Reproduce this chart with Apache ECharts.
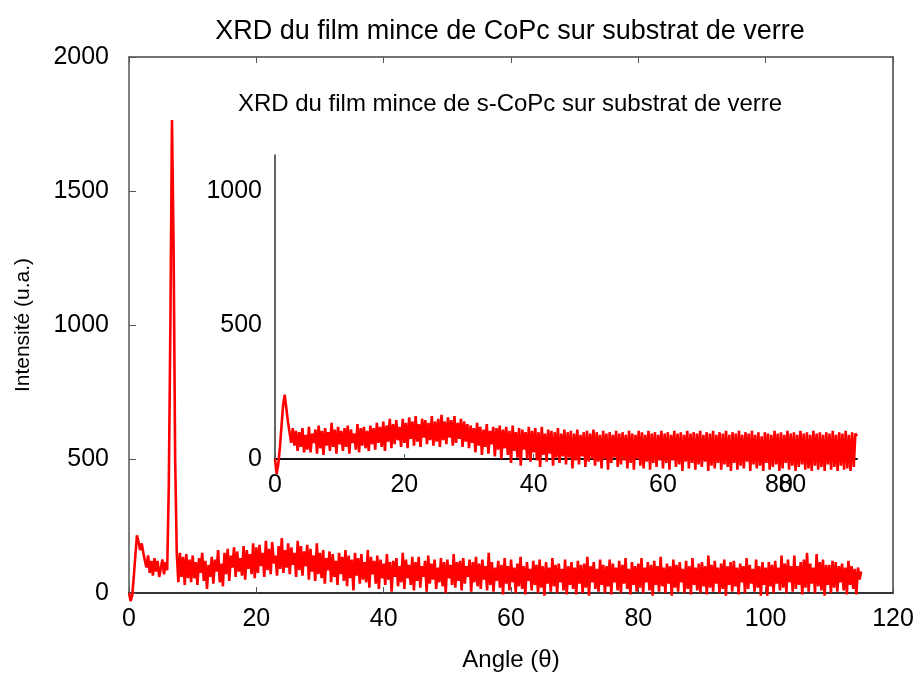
<!DOCTYPE html>
<html>
<head>
<meta charset="utf-8">
<script src="https://cdn.jsdelivr.net/npm/echarts@6/dist/echarts.min.js"></script>
<style>
  html, body { margin: 0; padding: 0; background: #fff; }
  #chart { width: 916px; height: 677px; }
</style>
</head>
<body>
<div id="chart"></div>
<script>
// 角度步长 (°)
const angleStep = 0.25;

// 主图: CoPc 薄膜, 0° ~ 115°, 每行 5°
const mainIntensity = [
  0, -30, -10, 60, 140, 215, 190, 160, 185, 150, 120, 95, 140, 75, 120, 65, 130, 80, 120, 60,
  55, 125, 70, 115, 85, 400, 1000, 1765, 1300, 500, 150, 40, 150, 60, 135, 30, 145, 55, 125, 40,
  140, 55, 115, 30, 130, 75, 150, 45, 120, 15, 105, 60, 135, 35, 125, 80, 160, 40, 110, 25,
  150, 70, 165, 45, 140, 95, 170, 60, 155, 80, 130, 65, 175, 50, 160, 90, 145, 70, 185, 55,
  170, 75, 180, 100, 150, 60, 195, 85, 165, 70, 190, 110, 140, 65, 175, 90, 205, 75, 160, 95,
  185, 70, 170, 105, 150, 60, 195, 85, 175, 65, 155, 100, 180, 50, 165, 80, 140, 45, 185, 70,
  150, 55, 160, 35, 130, 85, 155, 40, 145, 60, 120, 30, 150, 70, 135, 45, 160, 25, 140, 55,
  125, 10, 150, 65, 130, 35, 145, 50, 115, 40, 160, 20, 135, 70, 120, 35, 140, 15, 125, 55,
  110, 30, 145, 50, 115, 5, 120, 60, 130, 25, 100, 40, 150, 15, 125, 55, 105, 30, 135, 10,
  115, 45, 135, 20, 100, 60, 120, 5, 140, 35, 110, 50, 125, 15, 95, 40, 130, 25, 115, 0,
  125, 55, 105, 30, 145, 20, 115, 45, 120, 10, 130, 35, 100, 60, 125, 5, 115, 40, 135, 25,
  110, 15, 125, 50, 100, 10, 150, 30, 115, 5, 95, 45, 120, 20, 105, -5, 130, 35, 100, 10,
  125, 40, 95, 0, 110, 25, 135, 15, 100, -5, 115, 45, 90, 10, 120, 30, 105, 0, 125, 20,
  100, -10, 115, 35, 95, 5, 130, 25, 105, 0, 110, 40, 90, 10, 125, -5, 100, 30, 115, 15,
  95, -5, 120, 35, 105, 0, 110, 20, 135, -10, 100, 40, 115, 15, 90, 5, 125, 30, 105, 0,
  100, 25, 125, -5, 110, 40, 95, 10, 120, 0, 105, 35, 130, 15, 90, -5, 115, 30, 100, 5,
  110, 20, 130, 0, 95, 40, 115, 10, 105, -10, 120, 30, 100, 5, 135, 25, 95, 0, 110, 35,
  100, -10, 125, 20, 105, 5, 115, 40, 90, 0, 120, 15, 100, -5, 130, 30, 95, 10, 110, 0,
  115, 25, 100, -5, 140, 20, 105, 5, 120, 35, 95, 0, 110, 15, 125, -10, 100, 30, 115, 5,
  120, 25, 95, -5, 110, 40, 100, 0, 130, 15, 105, 35, 90, 5, 125, 20, 100, -10, 115, 30,
  95, -10, 115, 25, 105, 0, 120, 35, 95, 10, 140, 20, 110, 0, 125, 40, 100, 5, 140, 15,
  100, 30, 115, -5, 125, 20, 150, 5, 110, 35, 95, 0, 145, 25, 115, 10, 125, -10, 105, 30,
  105, 0, 120, 20, 115, 5, 100, 40, 110, 10, 95, -5, 120, 30, 100, 15, 90, -5, 95, 50,
  80
];

// 插图: s-CoPc 薄膜, 0° ~ 90°, 每行 5°
const insetIntensity = [
  0, -55, -20, 40, 120, 200, 240, 190, 140, 100, 60, 115, 50, 105, 30, 100, 45, 115, 25, 90,
  35, 120, 25, 95, 60, 110, 20, 125, 40, 105, 15, 115, 50, 100, 30, 135, 45, 110, 20, 120,
  55, 105, 30, 115, 45, 125, 20, 110, 60, 95, 35, 130, 25, 115, 50, 120, 40, 105, 30, 125,
  55, 115, 35, 135, 60, 120, 45, 140, 30, 125, 65, 150, 40, 130, 55, 145, 70, 120, 45, 150,
  60, 135, 40, 155, 75, 140, 50, 160, 65, 130, 45, 150, 80, 145, 55, 135, 70, 160, 50, 140,
  65, 150, 45, 165, 70, 140, 55, 155, 80, 145, 50, 160, 60, 135, 75, 150, 45, 140, 65, 130,
  40, 125, 60, 115, 25, 135, 50, 120, 15, 110, 45, 130, 20, 105, 55, 120, 10, 115, 35, 125,
  0, 110, 40, 120, 15, 105, -15, 125, 30, 100, 5, 115, -25, 110, 35, 100, 0, 120, -10, 105,
  25, 115, -5, 100, -30, 120, 15, 95, -10, 110, 20, 105, -25, 100, 5, 115, -15, 95, 10, 110,
  -20, 100, 5, 105, -35, 95, -5, 110, -20, 90, 10, 100, -30, 105, -10, 95, 0, 110, -25, 100,
  -10, 90, -35, 105, 0, 95, -40, 100, -15, 90, 5, 105, -30, 95, -20, 100, -5, 90, -35, 105,
  -15, 95, -40, 90, 0, 105, -25, 100, -35, 90, -10, 105, -40, 95, -15, 100, -30, 90, -5, 105,
  -35, 95, -15, 100, -40, 90, -5, 105, -30, 95, -20, 100, -45, 90, -10, 105, -35, 95, -15, 100,
  -40, 95, -20, 105, -30, 90, -10, 100, -45, 95, -25, 105, -35, 90, -15, 100, -40, 95, -20, 105,
  -30, 90, -45, 100, -15, 95, -40, 105, -25, 90, -35, 100, -10, 95, -45, 105, -20, 90, -35, 100,
  -25, 85, -45, 100, -15, 95, -40, 90, -30, 105, -20, 95, -45, 100, -35, 90, -15, 105, -40, 95,
  -25, 100, -45, 90, -30, 105, -20, 95, -40, 100, -35, 90, -45, 105, -25, 95, -40, 100, -30, 90,
  -45, 100, -20, 95, -40, 105, -30, 90, -45, 100, -25, 95, -40, 105, -35, 90, -45, 100, -30, 95,
  85
];

// 文本
const mainTitle = 'XRD du film mince de CoPc sur substrat de verre';
const insetTitle = 'XRD du film mince de s-CoPc sur substrat de verre';
const xName = 'Angle (θ)';
const yName = 'Intensité (u.a.)';

const FONT = 'Liberation Sans, Arial, sans-serif';
const RED = '#ff0000';

// 转为 [角度, 强度]
const toPairs = (arr) => arr.map((v, i) => [i * angleStep, v]);

const myChart = echarts.init(document.getElementById('chart'), null, { renderer: 'canvas' });

// 刻度标签样式 (不要千分位)
const labelStyle = {
  color: '#000', fontFamily: FONT, fontSize: 25,
  formatter: (v) => String(v)
};

const option = {
  animation: false,
  backgroundColor: '#fff',
  graphic: [
    {
      type: 'text', x: 510, y: 32,
      style: { text: mainTitle, font: '27px ' + FONT, fill: '#000', align: 'center', verticalAlign: 'middle' }
    },
    {
      type: 'text', x: 510, y: 104,
      style: { text: insetTitle, font: '24px ' + FONT, fill: '#000', align: 'center', verticalAlign: 'middle' }
    },
    // 插图 x 轴上重叠的 "80"
    {
      type: 'text', x: 779, y: 485,
      style: { text: '80', font: '25px ' + FONT, fill: '#000', align: 'center', verticalAlign: 'middle' }
    }
  ],
  grid: [
    { left: 129, right: 23, top: 57, bottom: 84, outerBoundsMode: 'none', containLabel: false },
    { left: 275, right: 59, top: 155, bottom: 218, outerBoundsMode: 'none', containLabel: false }
  ],
  xAxis: [
    {
      gridIndex: 0, type: 'value', min: 0, max: 120, interval: 20,
      name: xName, nameLocation: 'middle', nameGap: 55,
      nameTextStyle: { color: '#000', fontFamily: FONT, fontSize: 24 },
      axisLine: { onZero: false, lineStyle: { color: '#333', width: 2 } },
      axisTick: { inside: true, length: 6, lineStyle: { color: '#555' } },
      axisLabel: Object.assign({ margin: 14 }, labelStyle),
      splitLine: { show: false }
    },
    {
      // 顶部边框
      gridIndex: 0, type: 'value', position: 'top', min: 0, max: 120, interval: 20,
      axisLine: { onZero: false, lineStyle: { color: '#444', width: 1.5 } },
      axisTick: { inside: true, length: 6, lineStyle: { color: '#555' } },
      axisLabel: { show: false },
      splitLine: { show: false }
    },
    {
      gridIndex: 1, type: 'value', min: 0, max: 90, interval: 20,
      axisLine: { onZero: false, lineStyle: { color: '#111', width: 2 } },
      axisTick: { inside: true, length: 5, lineStyle: { color: '#555' } },
      axisLabel: Object.assign({ margin: 14, showMaxLabel: false }, labelStyle),
      splitLine: { show: false }
    }
  ],
  yAxis: [
    {
      gridIndex: 0, type: 'value', min: 0, max: 2000, interval: 500,
      name: yName, nameLocation: 'middle', nameGap: 95,
      nameTextStyle: { color: '#000', fontFamily: FONT, fontSize: 21 },
      axisLine: { show: true, onZero: false, lineStyle: { color: '#555', width: 1.5 } },
      axisTick: { inside: true, length: 7, lineStyle: { color: '#555' } },
      axisLabel: Object.assign({ margin: 20 }, labelStyle),
      splitLine: { show: false }
    },
    {
      // 右侧边框
      gridIndex: 0, type: 'value', position: 'right', min: 0, max: 2000, interval: 500,
      axisLine: { show: true, onZero: false, lineStyle: { color: '#444', width: 1.5 } },
      axisTick: { show: false },
      axisLabel: { show: false },
      splitLine: { show: false }
    },
    {
      gridIndex: 1, type: 'value', min: 0, max: 1134, interval: 500,
      axisLine: { show: true, onZero: false, lineStyle: { color: '#333', width: 1.5 } },
      axisTick: { show: false },
      axisLabel: Object.assign({ margin: 13, showMaxLabel: false }, labelStyle),
      splitLine: { show: false }
    }
  ],
  series: [
    {
      type: 'line', xAxisIndex: 0, yAxisIndex: 0,
      data: toPairs(mainIntensity),
      symbol: 'none', clip: false, sampling: null,
      lineStyle: { color: RED, width: 2.6 }
    },
    {
      type: 'line', xAxisIndex: 2, yAxisIndex: 2,
      data: toPairs(insetIntensity),
      symbol: 'none', clip: false, sampling: null,
      lineStyle: { color: RED, width: 2.6 }
    }
  ]
};

myChart.setOption(option, true);
</script>
</body>
</html>
